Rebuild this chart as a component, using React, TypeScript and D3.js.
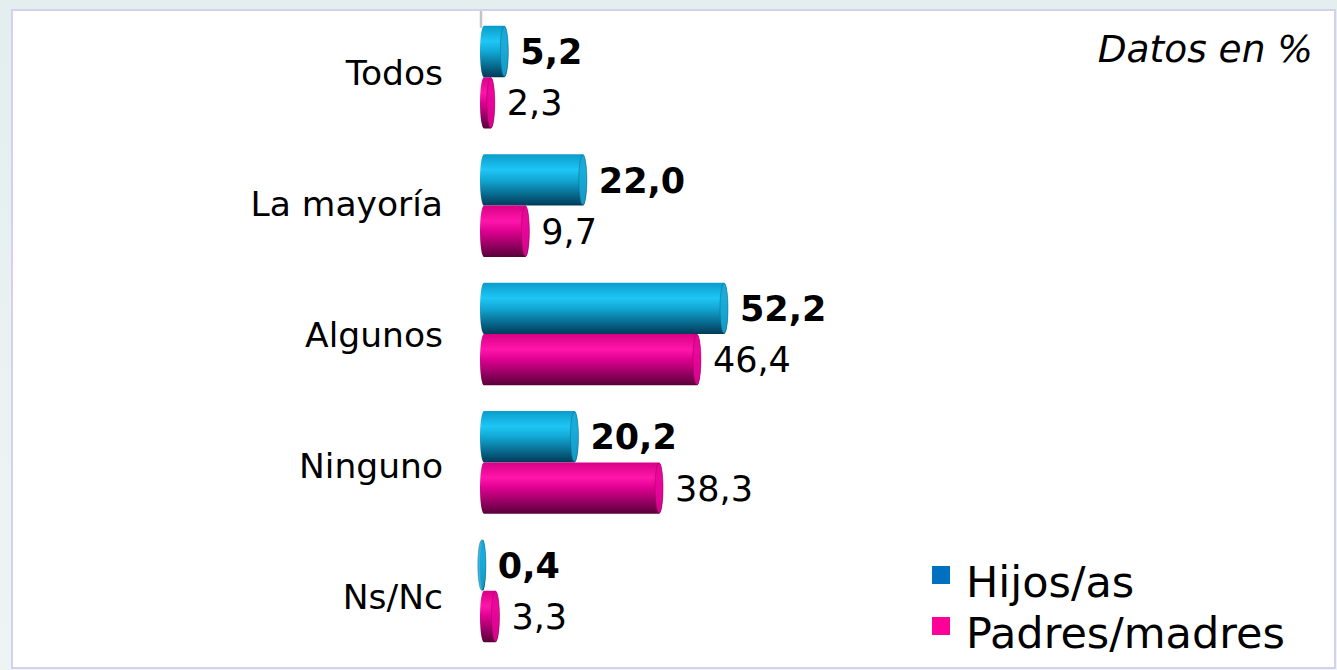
import React, { useEffect, useRef } from "react";
import * as d3 from "d3";

const categories = ["Todos", "La mayoría", "Algunos", "Ninguno", "Ns/Nc"];
const hijos = [5.2, 22.0, 52.2, 20.2, 0.4];
const padres = [2.3, 9.7, 46.4, 38.3, 3.3];
const seriesNames = ["Hijos/as", "Padres/madres"];
const legendColors = ["#0070c0", "#ff0099"];

const W = 1337;
const H = 670;

const fmt = (v: number) => v.toFixed(1).replace(".", ",");

const App: React.FC = () => {
  const svgRef = useRef<SVGSVGElement>(null);

  useEffect(() => {
    const svg = d3.select(svgRef.current);
    svg.selectAll("*").remove();

    const defs = svg.append("defs");
    const grad = (id: string, stops: Array<[number, string]>) => {
      const g = defs
        .append("linearGradient")
        .attr("id", id)
        .attr("x1", 0)
        .attr("y1", 0)
        .attr("x2", 0)
        .attr("y2", 1);
      stops.forEach(([o, c]) =>
        g.append("stop").attr("offset", `${o * 100}%`).attr("stop-color", c)
      );
    };
    grad("blueG", [
      [0, "#0a9cca"],
      [0.3, "#1ec6f6"],
      [0.5, "#12a8d4"],
      [1, "#003a58"],
    ]);
    grad("pinkG", [
      [0, "#d80086"],
      [0.3, "#ff16aa"],
      [0.5, "#de0090"],
      [1, "#58003a"],
    ]);
    grad("bgG", [
      [0, "#e4eeee"],
      [1, "#eef4f4"],
    ]);

    // frame
    svg.append("rect").attr("width", W).attr("height", H).attr("fill", "url(#bgG)");
    svg
      .append("rect")
      .attr("x", 12)
      .attr("y", 10)
      .attr("width", W - 14)
      .attr("height", H - 12)
      .attr("fill", "#fff")
      .attr("stroke", "#d2d2ee")
      .attr("stroke-width", 2);

    const x = d3.scaleLinear().domain([0, 52.2]).range([480, 724]);
    const y = d3
      .scaleBand<string>()
      .domain(categories)
      .range([13, 655])
      .paddingInner(0.2)
      .paddingOuter(0.1);
    const sub = d3
      .scaleBand<number>()
      .domain([0, 1])
      .range([0, y.bandwidth()]);
    const yLabel = d3.scalePoint<string>().domain(categories).range([73, 597]);

    // axis stub
    svg
      .append("line")
      .attr("x1", x(0) + 1)
      .attr("x2", x(0) + 1)
      .attr("y1", 11)
      .attr("y2", y(categories[0])! + 2)
      .attr("stroke", "#c4c4c4")
      .attr("stroke-width", 2.5);

    const rx = 4;
    const series = [
      { values: hijos, fill: "url(#blueG)", cap: "#1aa8d6", capStroke: "#0a6a8e", bold: true },
      { values: padres, fill: "url(#pinkG)", cap: "#e8069a", capStroke: "#9a0060", bold: false },
    ];

    series.forEach((s, si) => {
      const g = svg.append("g");
      categories.forEach((c, i) => {
        const v = s.values[i];
        const top = y(c)! + sub(si)!;
        const h = sub.bandwidth();
        const xe = x(v);
        g.append("rect")
          .attr("x", x(0))
          .attr("y", top)
          .attr("width", xe - x(0) + rx)
          .attr("height", h)
          .attr("rx", rx)
          .attr("ry", h / 2)
          .attr("fill", s.fill);
        g.append("ellipse")
          .attr("cx", xe)
          .attr("cy", top + h / 2)
          .attr("rx", rx)
          .attr("ry", h / 2 - 0.5)
          .attr("fill", s.cap)
          .attr("stroke", s.capStroke)
          .attr("stroke-width", 0.6)
          .attr("opacity", 0.85);
        g.append("text")
          .attr("x", xe + rx + 12)
          .attr("y", top + h / 2)
          .attr("dy", "0.36em")
          .attr("font-family", "DejaVu Sans")
          .attr("font-size", 35)
          .attr("font-weight", s.bold ? "bold" : "normal")
          .attr("fill", "#000")
          .text(fmt(v));
      });
    });

    // category labels
    svg
      .append("g")
      .selectAll("text")
      .data(categories)
      .join("text")
      .attr("x", 443)
      .attr("y", (d) => yLabel(d)!)
      .attr("dy", "0.36em")
      .attr("text-anchor", "end")
      .attr("font-family", "DejaVu Sans")
      .attr("font-size", 34.5)
      .attr("fill", "#000")
      .text((d) => d);

    // unit note
    svg
      .append("text")
      .attr("x", 1313)
      .attr("y", 62)
      .attr("text-anchor", "end")
      .attr("font-family", "DejaVu Sans")
      .attr("font-style", "italic")
      .attr("font-size", 37.5)
      .attr("fill", "#000")
      .text("Datos en %");

    // legend
    const lg = svg
      .append("g")
      .selectAll("g")
      .data(seriesNames)
      .join("g")
      .attr("transform", (_, i) => `translate(932,${566 + i * 51})`);
    lg.append("rect").attr("width", 18).attr("height", 18).attr("fill", (_, i) => legendColors[i]);
    lg.append("text")
      .attr("x", 34)
      .attr("y", 31)
      .attr("font-family", "DejaVu Sans")
      .attr("font-size", 43)
      .attr("fill", "#000")
      .text((d) => d);
  }, []);

  return (
    <svg
      ref={svgRef}
      width={W}
      height={H}
      style={{ position: "absolute", left: 0, top: 0 }}
    />
  );
};

export default App;
